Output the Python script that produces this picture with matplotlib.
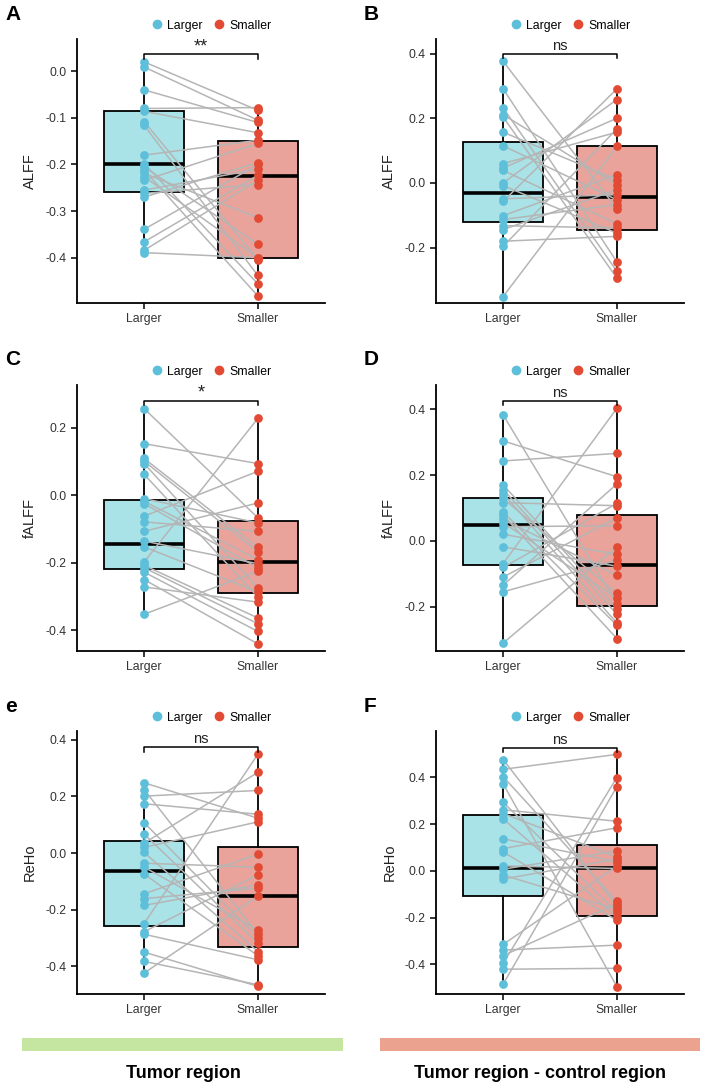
import matplotlib
matplotlib.use("Agg")
import matplotlib.pyplot as plt
from matplotlib.lines import Line2D
from matplotlib.patches import Rectangle

plt.rcParams['font.family'] = ['Liberation Sans', 'DejaVu Sans']

groups = ['Larger', 'Smaller']
col_larger = '#5DBFD9'
col_smaller = '#E34A33'
fill_larger = '#A9E3E8'
fill_smaller = '#E9A39B'

# paired values per panel (Larger[i] <-> Smaller[i])
a_larger = [0.020, 0.009, -0.040, -0.080, -0.086, -0.108, -0.116, -0.180, -0.198, -0.205, -0.212,
            -0.219, -0.226, -0.234, -0.255, -0.262, -0.270, -0.339, -0.366, -0.384, -0.389]
a_smaller = [-0.084, -0.105, -0.110, -0.078, -0.132, -0.404, -0.438, -0.148, -0.456, -0.371, -0.482,
             -0.314, -0.400, -0.155, -0.210, -0.243, -0.196, -0.200, -0.223, -0.234, -0.400]

b_larger = [0.376, 0.291, 0.232, 0.211, 0.204, 0.157, 0.115, 0.060, 0.046, 0.039, 0.000,
            -0.008, -0.049, -0.057, -0.101, -0.113, -0.132, -0.144, -0.180, -0.196, -0.351]
b_smaller = [-0.080, -0.244, -0.273, -0.005, -0.294, 0.010, -0.052, 0.157, 0.200, -0.126, 0.258,
             -0.155, -0.036, 0.291, 0.026, -0.067, -0.139, -0.021, -0.165, 0.167, 0.113]

c_larger = [0.257, 0.153, 0.109, 0.101, 0.094, 0.062, -0.010, -0.018, -0.025, -0.062, -0.079,
            -0.107, -0.136, -0.153, -0.198, -0.208, -0.215, -0.228, -0.250, -0.272, -0.353]
c_smaller = [-0.067, 0.094, -0.155, -0.168, -0.275, -0.302, -0.082, -0.191, -0.215, 0.071, -0.107,
             -0.023, -0.203, -0.287, 0.228, -0.364, -0.381, -0.404, -0.441, -0.317, -0.225]

d_larger = [0.383, 0.304, 0.243, 0.170, 0.156, 0.144, 0.129, 0.116, 0.088, 0.078, 0.065,
            0.055, 0.043, 0.020, -0.018, -0.069, -0.081, -0.110, -0.135, -0.155, -0.311]
d_smaller = [-0.191, 0.195, 0.266, -0.206, -0.223, -0.250, -0.160, 0.107, -0.257, -0.297, -0.105,
             -0.174, 0.046, -0.041, -0.077, 0.403, 0.114, 0.070, 0.173, -0.059, -0.018]

e_larger = [0.248, 0.224, 0.201, 0.174, 0.107, 0.067, 0.035, 0.020, 0.002, -0.036, -0.050,
            -0.074, -0.144, -0.161, -0.185, -0.249, -0.278, -0.287, -0.350, -0.383, -0.424]
e_smaller = [0.123, -0.287, 0.221, 0.137, -0.299, -0.319, 0.285, 0.110, -0.348, -0.050, -0.272,
             -0.363, -0.004, -0.124, -0.112, 0.349, -0.077, -0.377, -0.471, -0.465, -0.152]

f_larger = [0.476, 0.434, 0.403, 0.372, 0.293, 0.261, 0.245, 0.222, 0.137, 0.095, 0.081,
            0.021, 0.007, -0.018, -0.035, -0.315, -0.339, -0.363, -0.396, -0.421, -0.485]
f_smaller = [-0.151, 0.498, -0.131, -0.495, -0.177, 0.212, 0.059, -0.198, 0.038, 0.184, -0.212,
             0.010, 0.085, -0.165, 0.050, 0.020, -0.318, -0.140, 0.399, -0.417, 0.360]

# box stats: (whislo, q1, med, q3, whishi)
a_box = [(-0.389, -0.260, -0.200, -0.085, 0.020), (-0.482, -0.400, -0.225, -0.150, -0.078)]
b_box = [(-0.351, -0.122, -0.031, 0.126, 0.376), (-0.294, -0.144, -0.044, 0.113, 0.291)]
c_box = [(-0.353, -0.219, -0.144, -0.013, 0.257), (-0.441, -0.290, -0.199, -0.077, 0.228)]
d_box = [(-0.311, -0.074, 0.048, 0.129, 0.383), (-0.297, -0.199, -0.074, 0.080, 0.403)]
e_box = [(-0.424, -0.257, -0.064, 0.042, 0.248), (-0.471, -0.331, -0.152, 0.023, 0.349)]
f_box = [(-0.485, -0.106, 0.010, 0.240, 0.476), (-0.495, -0.194, 0.011, 0.110, 0.498)]

panels = [
    dict(letter='A', ylabel='ALFF', lar=a_larger, sma=a_smaller, box=a_box, sig='**', br=0.036,
         ylim=(-0.497, 0.069), ticks=[-0.4, -0.3, -0.2, -0.1, 0.0]),
    dict(letter='B', ylabel='ALFF', lar=b_larger, sma=b_smaller, box=b_box, sig='ns', br=0.400,
         ylim=(-0.371, 0.445), ticks=[-0.2, 0.0, 0.2, 0.4]),
    dict(letter='C', ylabel='fALFF', lar=c_larger, sma=c_smaller, box=c_box, sig='*', br=0.280,
         ylim=(-0.462, 0.327), ticks=[-0.4, -0.2, 0.0, 0.2]),
    dict(letter='D', ylabel='fALFF', lar=d_larger, sma=d_smaller, box=d_box, sig='ns', br=0.426,
         ylim=(-0.335, 0.474), ticks=[-0.2, 0.0, 0.2, 0.4]),
    dict(letter='e', ylabel='ReHo', lar=e_larger, sma=e_smaller, box=e_box, sig='ns', br=0.373,
         ylim=(-0.498, 0.431), ticks=[-0.4, -0.2, 0.0, 0.2, 0.4]),
    dict(letter='F', ylabel='ReHo', lar=f_larger, sma=f_smaller, box=f_box, sig='ns', br=0.526,
         ylim=(-0.527, 0.598), ticks=[-0.4, -0.2, 0.0, 0.2, 0.4]),
]

W, H = 702, 1083
fig = plt.figure(figsize=(W / 100, H / 100), dpi=100)

col_x = [77, 436]
row_y = [(39, 303), (385, 651), (731, 994)]
ax_w = 248

for i, p in enumerate(panels):
    r, c = divmod(i, 2)
    top, bot = row_y[r]
    ax = fig.add_axes([col_x[c] / W, 1 - bot / H, ax_w / W, (bot - top) / H])

    stats = []
    for s in p['box']:
        stats.append(dict(whislo=s[0], q1=s[1], med=s[2], q3=s[3], whishi=s[4], fliers=[]))
    bp = ax.bxp(stats, positions=[1, 2], widths=0.7, patch_artist=True, showcaps=False,
                boxprops=dict(edgecolor='black', linewidth=1.3),
                whiskerprops=dict(color='black', linewidth=1.3),
                medianprops=dict(color='black', linewidth=2.6), zorder=1)
    for patch, fc in zip(bp['boxes'], [fill_larger, fill_smaller]):
        patch.set_facecolor(fc)

    for yl, ys in zip(p['lar'], p['sma']):
        ax.plot([1, 2], [yl, ys], color='#B5B5B5', lw=1.1, zorder=3)
    ax.plot([1] * len(p['lar']), p['lar'], 'o', color=col_larger, ms=6.3, mec='none', zorder=4)
    ax.plot([2] * len(p['sma']), p['sma'], 'o', color=col_smaller, ms=6.3, mec='none', zorder=4)

    y0, y1 = p['ylim']
    drop = 0.016 * (y1 - y0)
    ax.plot([1, 1, 2, 2], [p['br'] - drop, p['br'], p['br'], p['br'] - drop],
            color='black', lw=1.1, zorder=5, clip_on=False)
    if p['sig'] == 'ns':
        ax.text(1.5, p['br'] + 0.004 * (y1 - y0), p['sig'], ha='center', va='bottom',
                fontsize=10.5, color='#222222')
    else:
        ax.text(1.5, p['br'] - 0.004 * (y1 - y0), p['sig'], ha='center', va='bottom',
                fontsize=13, color='#222222')

    ax.set_xlim(0.41, 2.59)
    ax.set_ylim(y0, y1)
    ax.set_xticks([1, 2])
    ax.set_xticklabels(groups)
    ax.set_yticks(p['ticks'])
    ax.set_yticklabels(['%.1f' % t for t in p['ticks']])
    ax.tick_params(labelsize=8.8, labelcolor='#333333', length=4, width=1.1, direction='out')
    for side in ['top', 'right']:
        ax.spines[side].set_visible(False)
    for side in ['left', 'bottom']:
        ax.spines[side].set_linewidth(1.3)
    ax.set_ylabel(p['ylabel'], fontsize=10.5, color='#222222', labelpad=6)

    handles = [Line2D([], [], marker='o', ls='none', color=col_larger, ms=7, mec='none'),
               Line2D([], [], marker='o', ls='none', color=col_smaller, ms=7, mec='none')]
    ax.legend(handles, groups, loc='lower center', bbox_to_anchor=(0.54, 1.0), ncol=2,
              frameon=False, fontsize=8.8, handletextpad=0.3, columnspacing=0.9,
              borderaxespad=0.2, handlelength=1.0)

    fig.text((col_x[c] - 72) / W, 1 - (top - 25) / H, p['letter'], fontsize=15,
             fontweight='bold', ha='left', va='center')

# bottom group bars and titles
fig.patches.append(Rectangle((22 / W, 1 - 1051 / H), 321 / W, 13 / H, transform=fig.transFigure,
                             facecolor='#C5E6A1', edgecolor='none'))
fig.patches.append(Rectangle((380 / W, 1 - 1051 / H), 320 / W, 13 / H, transform=fig.transFigure,
                             facecolor='#EBA38F', edgecolor='none'))
fig.text(183 / W, 1 - 1074 / H, 'Tumor region', fontsize=13, fontweight='bold',
         ha='center', va='center')
fig.text(540 / W, 1 - 1074 / H, 'Tumor region - control region', fontsize=13,
         fontweight='bold', ha='center', va='center')

fig.savefig('out.png', dpi=100)
